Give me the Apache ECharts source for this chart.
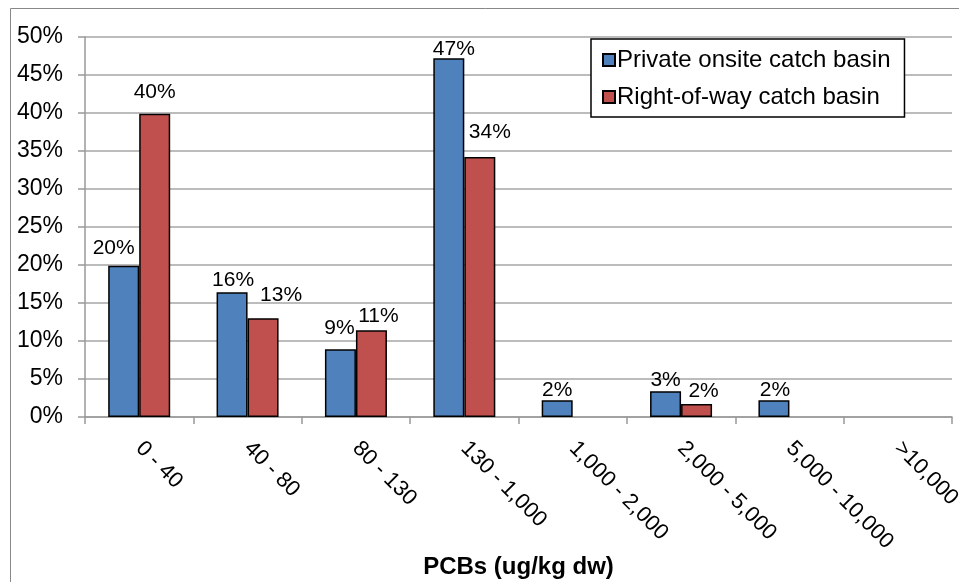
<!DOCTYPE html>
<html><head><meta charset="utf-8">
<script src="https://cdn.jsdelivr.net/npm/echarts@6/dist/echarts.min.js"></script>
<style>html,body{margin:0;padding:0;background:#fff}#c{width:959px;height:582px}</style>
</head><body><div id="c"></div>
<script>
const categories = ['0 - 40','40 - 80','80 - 130','130 - 1,000','1,000 - 2,000','2,000 - 5,000','5,000 - 10,000','>10,000'];
const privateOnsite = [19.9, 16.4, 8.9, 47.2, 2.2, 3.4, 2.2, 0];
const rightOfWay = [39.9, 13.0, 11.4, 34.2, 0, 1.7, 0, 0];
const seriesNames = ['Private onsite catch basin','Right-of-way catch basin'];

// label nudges (pixels) mimicking the original label placement
const privateLabelOffsets = [[-10,-5],[1,0],[-1,-9],[5,3],[0,2],[0,2],[1,2],[0,0]];
const rowLabelOffsets = [[0,-9],[18,-10],[7,-2],[10,-12],[0,0],[7,0],[0,0],[0,0]];

const FONT = '"Liberation Sans", Arial, sans-serif';
const chart = echarts.init(document.getElementById('c'));
const lbl = {show:true, position:'top', distance:2, fontFamily:FONT, fontSize:21, color:'#000',
  formatter: p => p.value > 0 ? Math.round(p.value) + '%' : ''};
const toData = (arr, offs) => arr.map((v, i) => v > 0
  ? {value:v, label:{offset:offs[i]}}
  : {value:v, itemStyle:{borderWidth:0}});
chart.setOption({
  animation:false,
  graphic:[{type:'rect', shape:{x:10.5,y:8.5,width:1000,height:1000}, style:{fill:'none', stroke:'#888', lineWidth:1}, silent:true}],
  grid:{left:85, right:7, top:37, bottom:165, containLabel:false, outerBoundsMode:'none'},
  legend:{orient:'vertical', left:591, top:39, width:314, height:75, padding:[9,14,8,11], itemGap:13,
    itemWidth:12, itemHeight:12, borderColor:'#000', borderWidth:1.5, backgroundColor:'#fff',
    textStyle:{fontFamily:FONT, fontSize:24, color:'#000', padding:[0,0,0,-3]},
    data:seriesNames.map(n=>({name:n, icon:'rect'}))},
  xAxis:{type:'category', data:categories,
    axisLine:{lineStyle:{color:'#999', width:1.5}},
    axisTick:{show:true, length:7, lineStyle:{color:'#999', width:1.5}},
    axisLabel:{rotate:-45, fontFamily:FONT, fontSize:22, color:'#000', margin:28, interval:0},
    name:'PCBs (ug/kg dw)', nameLocation:'middle', nameGap:138, nameMoveOverlap:false,
    nameTextStyle:{fontFamily:FONT, fontSize:24, fontWeight:'bold', color:'#000'}},
  yAxis:{type:'value', min:0, max:50, interval:5,
    axisLine:{show:true, lineStyle:{color:'#999', width:1.5}},
    axisTick:{show:true, length:7, lineStyle:{color:'#999', width:1.5}},
    splitLine:{lineStyle:{color:'#a6a6a6', width:1.5}},
    axisLabel:{formatter:'{value}%', fontFamily:FONT, fontSize:23, color:'#000', margin:22}},
  series:[
    {name:seriesNames[0], type:'bar', data:toData(privateOnsite, privateLabelOffsets), barWidth:31, barGap:'0%',
      itemStyle:{color:'#4F81BD', borderColor:'#000', borderWidth:1.5}, label:lbl},
    {name:seriesNames[1], type:'bar', data:toData(rightOfWay, rowLabelOffsets), barWidth:31, barGap:'0%',
      itemStyle:{color:'#C0504D', borderColor:'#000', borderWidth:1.5}, label:lbl}
  ]
});
</script></body></html>
